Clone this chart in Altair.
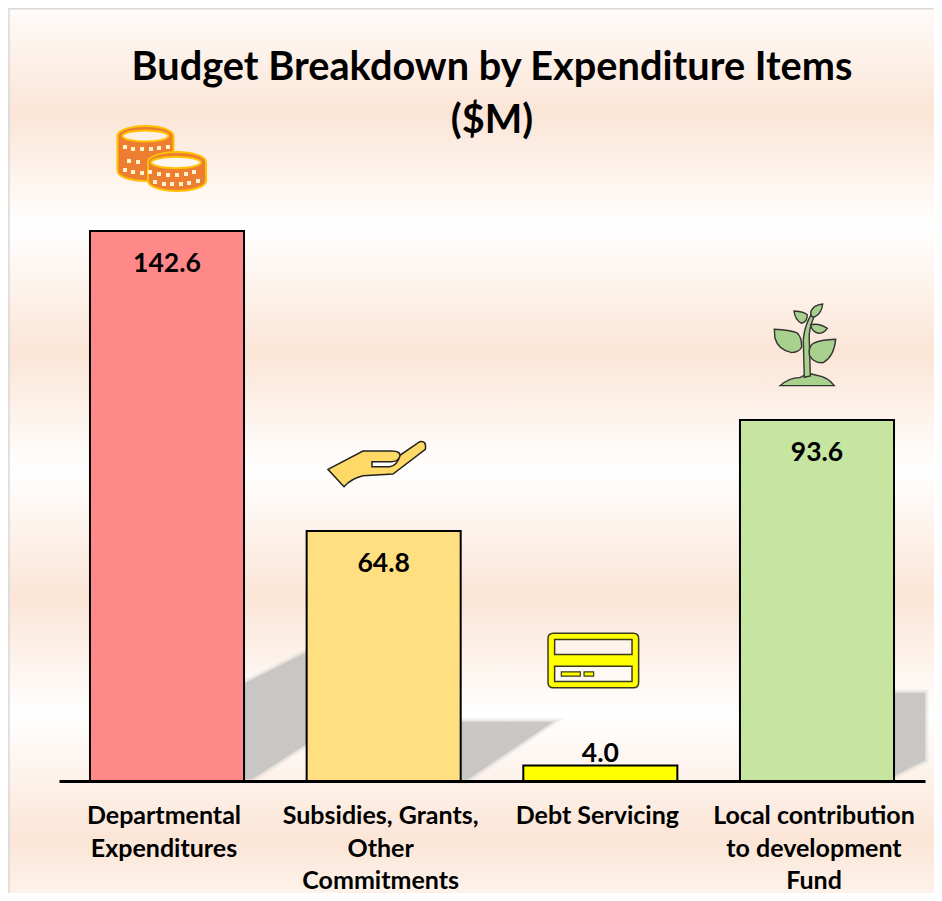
import re
import altair as alt
import pandas as pd

categories = ["Departmental\nExpenditures", "Subsidies, Grants,\nOther\nCommitments", "Debt Servicing", "Local contribution\nto development\nFund"]
values = [142.6, 64.8, 4.0, 93.6]
labels = ["142.6", "64.8", "4.0", "93.6"]
colors = ["#ff8989", "#ffdf80", "#ffff00", "#c5e5a0"]
title_lines = ["Budget Breakdown by Expenditure Items", "($M)"]

FONT = "Lato"
PEACH, WHITE = "#fbe5d6", "#ffffff"
PAGE_TOP = 130  # room for the title above the plot
PLOT_W, PLOT_H = 866, 643
BOTTOM = 112
RIGHT = 9

df = pd.DataFrame({"cat": categories, "val": values, "label": labels, "col": colors, "zero": [0, 0, 0, 0]})
x_enc = alt.X("cat:N", sort=None, title=None,
              scale=alt.Scale(domain=categories, paddingInner=0.289, paddingOuter=0.143),
              axis=alt.Axis(labelExpr="split(datum.label, '\\n')", labelAngle=0, labelFont=FONT,
                            labelFontSize=25, labelFontWeight="bold", labelColor="#000000",
                            labelLineHeight=32.5, labelPadding=34.5, labelLimit=400, labelBaseline="middle",
                            labelOffset=-3, ticks=False, domainColor="#000000", domainWidth=3, zindex=2))
y_scale = alt.Scale(domain=[0, 166.7], nice=False)
y_enc = alt.Y("val:Q", title=None, axis=None, stack=None, scale=y_scale)
y_zero = alt.Y("zero:Q", title=None, axis=None, stack=None, scale=y_scale)


def tr(path, sx, sy, ox, oy):
    """Rescale 'x,y' pairs of a path drawn over a zoomed crop to pixels around an anchor."""
    return re.sub(r"(-?[\d.]+),(-?[\d.]+)",
                  lambda m: f"{float(m[1]) * sx + ox:.1f},{float(m[2]) * sy + oy:.1f}", path)


def icon(cat, path, fill, stroke, sw, xo, yo):
    return alt.Chart(df[df.cat == cat]).mark_point(
        shape=path, size=4, filled=True, fill=fill, stroke=stroke, strokeWidth=sw,
        xOffset=xo, yOffset=yo, opacity=1,
    ).encode(x=x_enc, y=y_enc)


def base_shape(cat, path, fill, sw, so):
    """Shape anchored at the bar's foot (y = 0)."""
    return alt.Chart(df[df.cat == cat]).mark_point(
        shape=path, size=4, filled=True, fill=fill, stroke=fill, strokeWidth=sw, strokeOpacity=so, opacity=1,
    ).encode(x=x_enc, y=y_zero)


# ---- background bands
total = PAGE_TOP + PLOT_H + BOTTOM
bands = [(8, "#fefbf9"), (113, PEACH), (227, WHITE), (353, PEACH), (470, WHITE), (597, PEACH), (715, WHITE),
         (840, PEACH), (893, "#fdf2ea")]
stops = [alt.GradientStop(offset=(py - 8) / total, color=c) for py, c in bands]
one = pd.DataFrame({"a": [1]})
bg = alt.Chart(one).mark_rect(
    fill=alt.LinearGradient(gradient="linear", stops=stops, x1=0, x2=0, y1=0, y2=1)
).encode(x=alt.value(-51), x2=alt.value(PLOT_W + RIGHT), y=alt.value(-PAGE_TOP), y2=alt.value(PLOT_H + BOTTOM))
frame_top = alt.Chart(one).mark_rule(color="#d9d9d9", strokeWidth=1.5).encode(
    x=alt.value(-50), x2=alt.value(PLOT_W + RIGHT), y=alt.value(-PAGE_TOP + 0.7))
frame_left = alt.Chart(one).mark_rule(color="#d9d9d9", strokeWidth=1.5).encode(
    x=alt.value(-50), y=alt.value(-PAGE_TOP), y2=alt.value(PLOT_H + BOTTOM))

title = alt.Chart(pd.DataFrame({"t": ["\n".join(title_lines)]})).mark_text(
    font=FONT, fontSize=39.7, fontWeight="bold", color="#000000", lineBreak="\n", lineHeight=53,
    baseline="top", align="center",
).encode(x=alt.value(PLOT_W / 2), y=alt.value(-PAGE_TOP + 41), text="t:N")

# ---- grey shadows behind the bars
SHADOW = "#c9c7c5"
shadow_paths = [
    (categories[1], "M-150,-92 L-78,-128 L-70,-128 L-70,-42 L-132,-2 L-150,-2 Z"),
    (categories[2], "M-150,-59 L-48,-59 L-134,-1 L-150,-1 Z"),
    (categories[3], "M70,-88 L108,-88 L108,-21 L70,-2 Z"),
]
shadows = []
for cat, p in shadow_paths:
    shadows += [base_shape(cat, p, SHADOW, 7, 0.25), base_shape(cat, p, SHADOW, 3, 0.45)]

# ---- bars and value labels
bars = alt.Chart(df).mark_bar(stroke="#000000", strokeWidth=2).encode(
    x=x_enc, y=y_enc, fill=alt.Fill("col:N", scale=None))
text_in = alt.Chart(df[df.val > 10]).mark_text(
    font=FONT, fontSize=26.5, fontWeight="bold", color="#000000", dy=33, baseline="middle"
).encode(x=x_enc, y=y_enc, text="label:N")
text_out = alt.Chart(df[df.val <= 10]).mark_text(
    font=FONT, fontSize=26.5, fontWeight="bold", color="#000000", dy=-12, baseline="middle"
).encode(x=x_enc, y=y_enc, text="label:N")


# ---- coins
def coin(cx, top, bottom, rx, ry):
    return (f"M{cx - rx},{top} A{rx} {ry} 0 0 1 {cx + rx},{top} L{cx + rx},{bottom} "
            f"A{rx} {ry} 0 0 1 {cx - rx},{bottom} Z")


def ell(cx, cy, rx, ry):
    return f"M{cx - rx},{cy} A{rx} {ry} 0 0 1 {cx + rx},{cy} A{rx} {ry} 0 0 1 {cx - rx},{cy} Z"


def dots(pts):
    return " ".join(f"M{x - 2},{y - 2} L{x + 2},{y - 2} L{x + 2},{y + 2} L{x - 2},{y + 2} Z" for x, y in pts)


c0 = categories[0]
OR, GOLD, PALE = "#ed7d31", "#ffc000", "#fff2cc"
back_dots = [(-36, -11), (-28, -9), (-19, -9), (-10, -9), (-2, -10), (7, -11), (-32, 3), (-23, 4), (-36, 12), (-28, 14), (-19, 15)]
front_dots = [(-11, 14), (-2, 16), (7, 17), (16, 17), (25, 16), (33, 14), (-6, 24), (3, 26), (11, 26), (20, 26), (28, 25), (37, 23)]
coins = [
    icon(c0, coin(-15.5, -22, 13, 28, 10), OR, GOLD, 2, -6, -73),
    icon(c0, ell(-15.5, -22, 23, 5.5), "#fdf0e6", GOLD, 2, -6, -73),
    icon(c0, dots(back_dots), PALE, PALE, 0, -6, -73),
    icon(c0, coin(16, 4, 23, 29, 10), OR, GOLD, 2, -6, -73),
    icon(c0, ell(15, 4.5, 25, 5.7), "#fef6f0", GOLD, 2, -6, -73),
    icon(c0, dots(front_dots), PALE, PALE, 0, -6, -73),
]

# ---- hand
hand_path = ("M-49.7,6.3 L-14.7,-12 L13.7,-12 Q24,-12 22,-6 Q20,-1.3 13.7,-1.3 L-5.7,-1.3 L-5.7,3.7 L12,3.7 "
             "Q19.3,3 22.7,-8 L42,-21.3 Q49,-23 47.7,-13.7 L15.3,11 L-14.7,12.7 Q-26.3,15.3 -33.7,23.7 Z")
hand = [icon(categories[1], hand_path, "#ffd966", "#222222", 1.5, -6, -68)]

# ---- card
c2 = categories[2]
card_outer = ("M-40,-27.3 L40,-27.3 Q45.3,-27.3 45.3,-22 L45.3,22 Q45.3,27.3 40,27.3 L-40,27.3 "
              "Q-45.3,27.3 -45.3,22 L-45.3,-22 Q-45.3,-27.3 -40,-27.3 Z")
card = [
    icon(c2, card_outer, "#ffff00", "#3a3a1a", 1.5, -7, -105),
    icon(c2, "M-38.7,-21 L38.7,-21 L38.7,-6 L-38.7,-6 Z", "#fdf3ec", "#3a3a1a", 1.5, -7, -105),
    icon(c2, "M-38.7,5.6 L38.7,5.6 L38.7,21 L-38.7,21 Z", "#fef9f5", "#3a3a1a", 1.5, -7, -105),
    icon(c2, "M-32,11.3 L-13,11.3 L-13,15.6 L-32,15.6 Z", "#ffff00", "#3a3a1a", 1.2, -7, -105),
    icon(c2, "M-9.3,11.3 L0.3,11.3 L0.3,15.6 L-9.3,15.6 Z", "#ffff00", "#3a3a1a", 1.2, -7, -105),
]

# ---- plant (traced over a 3x crop)
c3 = categories[3]
plant_parts = [
    "M90,287 Q120,262 150,263 L165,255 L185,252 L200,256 Q235,262 253,287 Z",
    "M163,262 L160,150 Q163,110 183,75 L192,80 Q175,120 178,150 L181,258 Z",
    "M73,118 Q120,120 140,128 Q155,140 155,170 Q150,185 125,188 Q85,180 75,145 Z",
    "M257,148 Q210,150 190,160 Q175,170 178,195 Q190,220 220,218 Q252,200 257,148 Z",
    "M218,42 Q190,45 182,65 Q182,85 195,80 Q215,70 218,42 Z",
    "M132,63 Q165,65 172,75 Q172,95 155,100 Q135,90 132,63 Z",
    "M232,115 Q205,98 182,105 Q185,125 205,130 Q222,130 232,115 Z",
]
plant = [icon(c3, tr(p, 1 / 3, 1 / 3, -55, -55), "#a9d18e", "#333333", 1.4, -12, -75) for p in plant_parts]

chart = alt.layer(
    bg, frame_top, frame_left, title, *shadows, bars, text_in, text_out, *coins, *hand, *card, *plant
).properties(
    width=PLOT_W, height=PLOT_H,
    padding={"left": 51, "right": RIGHT, "top": PAGE_TOP, "bottom": BOTTOM},
    autosize=alt.AutoSizeParams(type="none"),
).configure_view(stroke=None)

chart.save("out.html", embed_options={"renderer": "svg", "actions": False})
